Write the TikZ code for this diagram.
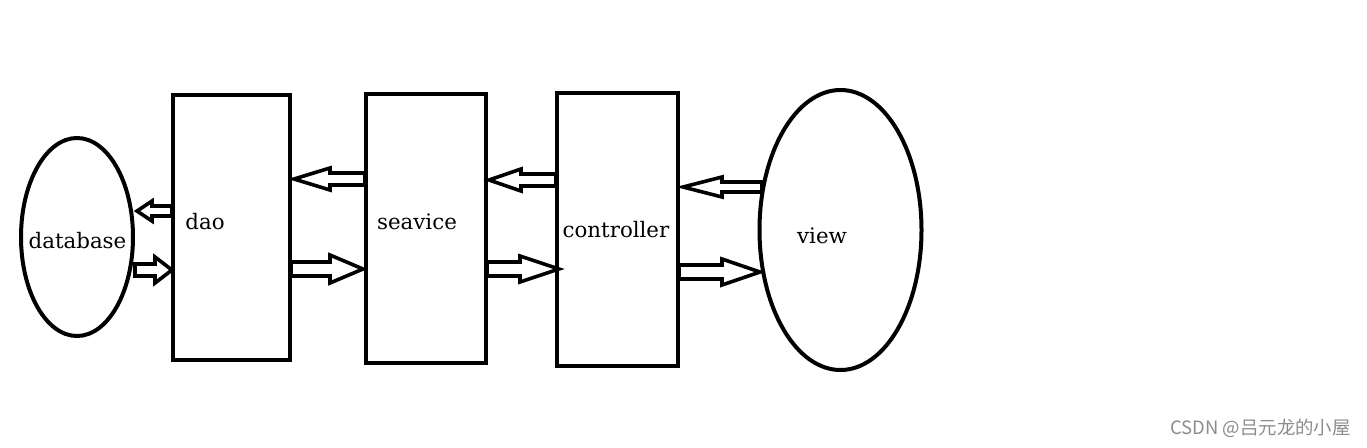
\documentclass[tikz,border=0pt]{standalone}
\usepackage{fontspec}
\setmainfont{DejaVu Serif}
\newfontfamily\cjk{Noto Sans CJK SC}
\newcommand\blockarr[6]{% tail x, tip x, y, head-back x, shaft half, head half
  \draw[barrow] (#1,#3-#5) -- (#4,#3-#5) -- (#4,#3-#6) -- (#2,#3) -- (#4,#3+#6) -- (#4,#3+#5) -- (#1,#3+#5) -- cycle;}
\begin{document}
\begin{tikzpicture}[x=0.75pt,y=-0.75pt,
  shp/.style={draw,line width=3pt,minimum width=0pt,inner sep=0pt},
  lbl/.style={font=\fontsize{16}{18}\selectfont,inner sep=0pt},
  barrow/.style={draw,fill=white,line width=2.7pt,line join=miter}]
\useasboundingbox (0,0) rectangle (1367,447);
\fill[white] (0,0) rectangle (1367,447);
% shapes
\draw[line width=3pt] (77,237) ellipse [x radius=56, y radius=99];
\node[shp,minimum width=87.75pt,minimum height=198.75pt] (dao) at (231.5,227.5) {};
\node[shp,minimum width=90pt,minimum height=201.75pt] (sea) at (426,228.5) {};
\node[shp,minimum width=90.75pt,minimum height=204.75pt] (ctl) at (617.5,229.5) {};
\draw[line width=3pt] (840.5,230) ellipse [x radius=81, y radius=140];
\node[lbl] (dbt) at (77.5,241) {database};
\node[lbl] (daot) at (205,222) {dao};
\node[lbl] (seat) at (417,222) {seavice};
\node[lbl] (ctlt) at (616,230) {controller};
\node[lbl] (viewt) at (822,236) {view};
% arrows
\blockarr{172}{137}{211}{152}{5}{10}
\blockarr{135}{172}{270}{155}{6}{13}
\blockarr{365}{294}{179}{330}{6}{11}
\blockarr{291}{363}{269}{330}{7}{14}
\blockarr{556}{489}{180}{521}{6}{11}
\blockarr{487}{559}{269}{520}{7}{13}
\blockarr{762}{683}{187}{722}{5}{10}
\blockarr{679}{760}{272}{722}{7}{13}
\node[text=black!45,font=\cjk\fontsize{13.8}{16}\selectfont,anchor=east,inner sep=0pt] (wm) at (1351,428) {CSDN @吕元龙的小屋};
\end{tikzpicture}
\end{document}
